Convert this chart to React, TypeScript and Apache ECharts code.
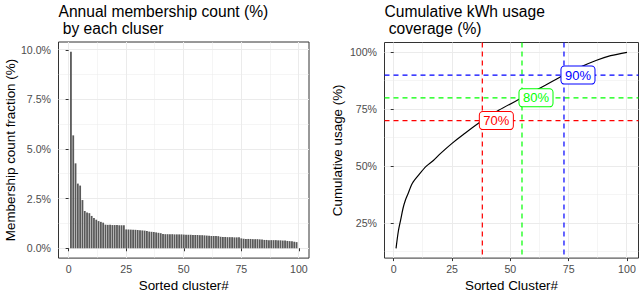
import React, { useEffect, useRef } from "react";
import * as echarts from "echarts";

// ---- data ----
const clusters: number[] = Array.from({ length: 99 }, (_, i) => i + 1);
const membershipShare: number[] = [
  9.9, 5.69, 4.28, 3.26, 3.16, 2.43, 1.88, 1.8, 1.77, 1.63,
  1.53, 1.44, 1.37, 1.33, 1.29, 1.19, 1.18, 1.18, 1.17, 1.17,
  1.17, 1.16, 1.16, 1.16, 0.95, 0.94, 0.94, 0.93, 0.93, 0.92,
  0.91, 0.9, 0.89, 0.87, 0.84, 0.83, 0.82, 0.8, 0.78, 0.76,
  0.72, 0.71, 0.71, 0.71, 0.71, 0.7, 0.7, 0.7, 0.7, 0.69,
  0.68, 0.68, 0.68, 0.67, 0.67, 0.67, 0.66, 0.66, 0.65, 0.64,
  0.63, 0.62, 0.62, 0.62, 0.61, 0.58, 0.57, 0.57, 0.56, 0.56,
  0.56, 0.55, 0.55, 0.55, 0.5, 0.48, 0.47, 0.47, 0.47, 0.46,
  0.46, 0.46, 0.45, 0.44, 0.42, 0.42, 0.41, 0.41, 0.41, 0.41,
  0.4, 0.4, 0.39, 0.39, 0.37, 0.36, 0.35, 0.33, 0.31,
];

const cumCluster: number[] = [1, 2, 3, 4, 5, 6, 8, 11, 14, 17, 20, 25, 30, 38, 45, 55, 65, 73, 80, 87, 93, 100];
const cumUsage: number[] = [13.9, 21.5, 26.5, 31.5, 35, 37.5, 42.5, 46.5, 50, 52.5, 55.5, 60, 64, 70, 74.5, 80, 85.5, 90, 93.5, 96.5, 98.5, 100];

const thresholdPct: number[] = [70, 80, 90];
const thresholdCluster: number[] = [38, 55, 73];
const thresholdColors: string[] = ["#ff0000", "#00ff00", "#0000ff"];

const xTicks: number[] = [0, 25, 50, 75, 100];
const xMinor: number[] = [12.5, 37.5, 62.5, 87.5];
const leftYTicks: number[] = [0, 2.5, 5, 7.5, 10];
const leftYMinor: number[] = [1.25, 3.75, 6.25, 8.75];
const rightYTicks: number[] = [25, 50, 75, 100];
const rightYMinor: number[] = [12.5, 37.5, 62.5, 87.5];

const FONT = "'Liberation Sans', Arial, Helvetica, sans-serif";

const snap = (v: number) => Math.round(v - 0.5) + 0.5;

function axisCommon(ticks: number[], fmt: (v: number) => string, margin: number) {
  return {
    axisLine: { show: false },
    axisTick: { show: true, customValues: ticks, length: 3, lineStyle: { color: "#333333", width: 1 } },
    axisLabel: {
      customValues: ticks,
      formatter: fmt,
      color: "#4d4d4d",
      fontSize: 10.6,
      fontFamily: FONT,
      margin,
    },
    splitLine: { show: false },
    nameTextStyle: { color: "#000", fontSize: 13.4, fontFamily: FONT },
    nameLocation: "middle" as const,
  };
}

export default function App() {
  const ref = useRef<HTMLDivElement>(null);
  useEffect(() => {
    if (!ref.current) return;
    const chart = echarts.init(ref.current, null, { renderer: "svg" });

    const gridX = (idx: number, values: number[], width: number) => ({
      type: "custom", xAxisIndex: idx, yAxisIndex: idx, z: 0, silent: true,
      data: values.map((v) => [v, 0]),
      renderItem: (params: any, api: any) => {
        const cs = params.coordSys;
        const x = snap(api.coord([api.value(0), api.value(1)])[0]);
        return { type: "line", shape: { x1: x, y1: cs.y, x2: x, y2: cs.y + cs.height }, style: { stroke: "#ebebeb", lineWidth: width } };
      },
    });
    const gridY = (idx: number, values: number[], width: number) => ({
      type: "custom", xAxisIndex: idx, yAxisIndex: idx, z: 0, silent: true,
      data: values.map((v) => [0, v]),
      renderItem: (params: any, api: any) => {
        const cs = params.coordSys;
        const y = snap(api.coord([api.value(0), api.value(1)])[1]);
        return { type: "line", shape: { x1: cs.x, y1: y, x2: cs.x + cs.width, y2: y }, style: { stroke: "#ebebeb", lineWidth: width } };
      },
    });

    const option: any = {
      animation: false,
      backgroundColor: "#ffffff",
      graphic: [
        { type: "text", x: 58.5, y: 11, style: { text: "Annual membership count (%)", font: `15.6px ${FONT}`, fill: "#000", verticalAlign: "middle", align: "left" } },
        { type: "text", x: 62.8, y: 28.5, style: { text: "by each cluser", font: `15.6px ${FONT}`, fill: "#000", verticalAlign: "middle", align: "left" } },
        { type: "text", x: 384.5, y: 11, style: { text: "Cumulative kWh usage", font: `15.6px ${FONT}`, fill: "#000", verticalAlign: "middle", align: "left" } },
        { type: "text", x: 388.8, y: 28.5, style: { text: "coverage (%)", font: `15.6px ${FONT}`, fill: "#000", verticalAlign: "middle", align: "left" } },
      ],
      grid: [
        { left: 58.5, top: 42, width: 250.5, height: 223, show: true, borderColor: "#333333", borderWidth: 1, backgroundColor: "transparent" },
        { left: 384.5, top: 42.5, width: 254, height: 222.5, show: true, borderColor: "#333333", borderWidth: 1, backgroundColor: "transparent" },
      ],
      xAxis: [
        { type: "value", gridIndex: 0, min: -4.4, max: 104.4, name: "Sorted cluster#", nameGap: 13, ...axisCommon(xTicks, (v) => String(v), 5) },
        { type: "value", gridIndex: 1, min: -3.95, max: 104.95, name: "Sorted Cluster#", nameGap: 13, ...axisCommon(xTicks, (v) => String(v), 5) },
      ],
      yAxis: [
        { type: "value", gridIndex: 0, min: -0.495, max: 10.395, name: "Membership count fraction (%)", nameGap: 42, ...axisCommon(leftYTicks, (v) => v.toFixed(1) + "%", 7.5) },
        { type: "value", gridIndex: 1, min: 9.6, max: 104.3, name: "Cumulative usage (%)", nameGap: 41, ...axisCommon(rightYTicks, (v) => v + "%", 7.5) },
      ],
      series: [
        gridX(0, xMinor, 0.5),
        gridY(0, leftYMinor, 0.5),
        gridX(0, xTicks, 1),
        gridY(0, leftYTicks, 1),
        gridX(1, xMinor, 0.5),
        gridY(1, rightYMinor, 0.5),
        gridX(1, xTicks, 1),
        gridY(1, rightYTicks, 1),
        {
          type: "bar", xAxisIndex: 0, yAxisIndex: 0, z: 2,
          data: clusters.map((c, i) => [c, membershipShare[i]]),
          barWidth: 1.8,
          itemStyle: { color: "#595959" },
        },
        {
          type: "line", xAxisIndex: 1, yAxisIndex: 1, z: 3,
          data: cumCluster.map((c, i) => [c, cumUsage[i]]),
          smooth: 0.3, showSymbol: false, symbol: "none",
          lineStyle: { color: "#000", width: 1.2 },
        },
        {
          type: "custom", xAxisIndex: 1, yAxisIndex: 1, z: 4, silent: true,
          data: thresholdCluster.map((c, i) => [c, thresholdPct[i], i]),
          renderItem: (params: any, api: any) => {
            const cs = params.coordSys;
            const p = api.coord([api.value(0), api.value(1)]);
            const col = thresholdColors[api.value(2)];
            const st = { stroke: col, lineWidth: 1.2, lineDash: [5, 4] };
            return {
              type: "group",
              children: [
                { type: "line", shape: { x1: p[0], y1: cs.y, x2: p[0], y2: cs.y + cs.height }, style: st },
                { type: "line", shape: { x1: cs.x, y1: p[1], x2: cs.x + cs.width, y2: p[1] }, style: st },
              ],
            };
          },
        },
        {
          type: "scatter", xAxisIndex: 1, yAxisIndex: 1, z: 6, symbolSize: 0, silent: true,
          itemStyle: { opacity: 1 },
          data: thresholdCluster.map((c, i) => ({
            value: [c, thresholdPct[i]],
            itemStyle: { opacity: 1 },
            label: {
              show: true,
              position: "inside",
              offset: [14, 0],
              formatter: thresholdPct[i] + "%",
              color: thresholdColors[i],
              opacity: 1,
              fontSize: 13,
              fontFamily: FONT,
              backgroundColor: "#ffffff",
              borderColor: thresholdColors[i],
              borderWidth: 1,
              borderRadius: 3,
              padding: [2.5, 3.5, 1.5, 3.5],
            },
          })),
        },
      ],
    };
    chart.setOption(option);
    return () => chart.dispose();
  }, []);
  return <div ref={ref} style={{ position: "absolute", left: 0, top: 0, width: 640, height: 297 }} />;
}
